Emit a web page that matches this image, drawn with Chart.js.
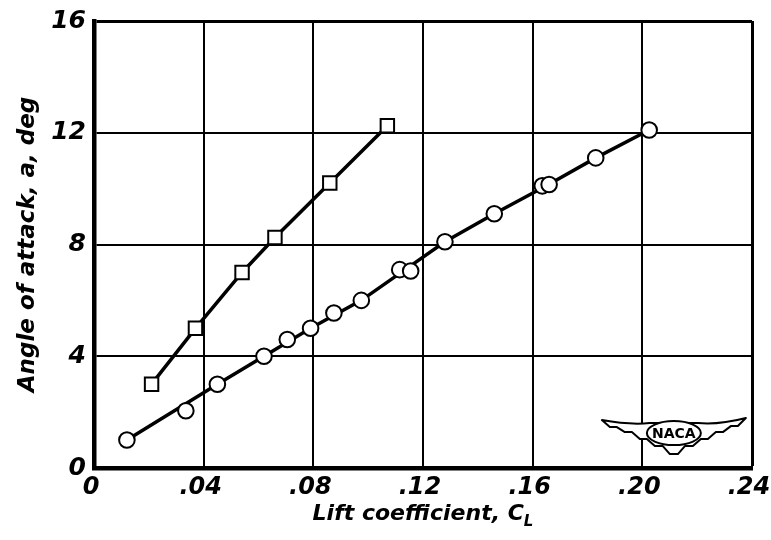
<!DOCTYPE html>
<html>
<head>
<meta charset="utf-8">
<script src="https://cdn.jsdelivr.net/npm/chart.js@4.4.1/dist/chart.umd.min.js"></script>
<style>
  html, body { margin: 0; padding: 0; background: #fff; }
  #wrap { width: 771px; height: 540px; }
</style>
</head>
<body>
<div id="wrap"><canvas id="chart" width="771" height="540"></canvas></div>
<script>
// tick labels
const xTickLabels = ['0', '.04', '.08', '.12', '.16', '.20', '.24']
const yTickLabels = ['0', '4', '8', '12', '16']

// square symbols
const squareCL = [0.021, 0.037, 0.054, 0.066, 0.086, 0.107]
const squareAlpha = [3, 5, 7, 8.25, 10.2, 12.25]
// faired line through the squares
const squareFitCL = [0.021, 0.037, 0.054, 0.066, 0.086, 0.105]
const squareFitAlpha = [3, 5, 7, 8.25, 10.2, 12.05]

// circle symbols
const circleCL = [0.012, 0.0335, 0.045, 0.062, 0.0705, 0.079, 0.0875, 0.0975, 0.1115, 0.1155, 0.128, 0.146, 0.1635, 0.166, 0.183, 0.2025]
const circleAlpha = [1, 2.05, 3, 4, 4.6, 5, 5.55, 6, 7.1, 7.05, 8.1, 9.1, 10.1, 10.15, 11.1, 12.1]
// faired line through the circles
const circleFitCL = [0.012, 0.045, 0.062, 0.079, 0.0975, 0.1135, 0.128, 0.146, 0.165, 0.183, 0.2025]
const circleFitAlpha = [1, 3, 4, 5, 6, 7.1, 8.1, 9.1, 10.1, 11.1, 12.1]

const FONT = "'DejaVu Sans', 'Liberation Sans', sans-serif"

const toPoints = (xs, ys) => xs.map((x, i) => ({ x: x, y: ys[i] }))

const whiteBg = {
  id: 'whiteBg',
  beforeDraw(chart) {
    const ctx = chart.ctx
    ctx.save()
    ctx.fillStyle = '#fff'
    ctx.fillRect(0, 0, chart.width, chart.height)
    ctx.restore()
  }
}

// x axis title with the subscript L
const xTitle = {
  id: 'xTitle',
  afterDraw(chart) {
    const { ctx, chartArea } = chart
    const cx = (chartArea.left + chartArea.right) / 2
    const main = 'Lift coefficient, C'
    ctx.save()
    ctx.fillStyle = '#000'
    ctx.textBaseline = 'alphabetic'
    ctx.textAlign = 'left'
    ctx.font = `italic bold 22px ${FONT}`
    const w = ctx.measureText(main).width
    ctx.font = `italic bold 15px ${FONT}`
    const ws = ctx.measureText('L').width
    const x0 = cx - (w + ws) / 2
    ctx.font = `italic bold 22px ${FONT}`
    ctx.fillText(main, x0, 520)
    ctx.font = `italic bold 15px ${FONT}`
    ctx.fillText('L', x0 + w, 526)
    ctx.restore()
  }
}

// NACA wing badge in the lower right corner
const nacaLogo = {
  id: 'nacaLogo',
  afterDraw(chart) {
    const ctx = chart.ctx
    const cx = chart.scales.x.getPixelForValue(0.2115)
    const cy = chart.scales.y.getPixelForValue(1.25)
    ctx.save()
    ctx.translate(cx, cy)
    ctx.lineWidth = 2
    ctx.lineJoin = 'round'
    ctx.strokeStyle = '#000'
    ctx.fillStyle = '#fff'
    ctx.beginPath()
    ctx.moveTo(-72, -13)
    ctx.quadraticCurveTo(-45, -8, -24, -10)
    ctx.lineTo(24, -10)
    ctx.quadraticCurveTo(45, -8, 72, -15)
    ctx.lineTo(64, -7); ctx.lineTo(57, -7)
    ctx.lineTo(49, -1); ctx.lineTo(42, -1)
    ctx.lineTo(34, 6); ctx.lineTo(27, 6)
    ctx.lineTo(19, 13); ctx.lineTo(11, 13)
    ctx.lineTo(4, 21); ctx.lineTo(-4, 21)
    ctx.lineTo(-11, 13); ctx.lineTo(-19, 13)
    ctx.lineTo(-27, 6); ctx.lineTo(-34, 6)
    ctx.lineTo(-42, -1); ctx.lineTo(-49, -1)
    ctx.lineTo(-57, -6); ctx.lineTo(-64, -6)
    ctx.closePath()
    ctx.fill()
    ctx.stroke()
    ctx.beginPath()
    ctx.ellipse(0, 0, 27, 12, 0, 0, Math.PI * 2)
    ctx.fill()
    ctx.stroke()
    ctx.fillStyle = '#000'
    ctx.font = `bold 14px ${FONT}`
    ctx.textAlign = 'center'
    ctx.textBaseline = 'middle'
    ctx.fillText('NACA', 0, 1)
    ctx.restore()
  }
}

new Chart(document.getElementById('chart'), {
  type: 'scatter',
  data: {
    datasets: [
      {
        label: 'Squares',
        data: toPoints(squareCL, squareAlpha),
        showLine: false,
        pointStyle: 'rect',
        pointRadius: 9.5,
        pointBorderWidth: 2,
        pointBackgroundColor: '#fff',
        pointBorderColor: '#000'
      },
      {
        label: 'Circles',
        data: toPoints(circleCL, circleAlpha),
        showLine: false,
        pointStyle: 'circle',
        pointRadius: 7.8,
        pointBorderWidth: 2,
        pointBackgroundColor: '#fff',
        pointBorderColor: '#000'
      },
      {
        label: 'Squares fairing',
        data: toPoints(squareFitCL, squareFitAlpha),
        showLine: true,
        borderColor: '#000',
        borderWidth: 3.5,
        pointRadius: 0,
        tension: 0,
        fill: false
      },
      {
        label: 'Circles fairing',
        data: toPoints(circleFitCL, circleFitAlpha),
        showLine: true,
        borderColor: '#000',
        borderWidth: 3.5,
        pointRadius: 0,
        tension: 0,
        fill: false
      }
    ]
  },
  options: {
    responsive: false,
    animation: false,
    layout: { padding: { top: 21, right: 19, left: 0, bottom: 0 } },
    plugins: {
      legend: { display: false },
      tooltip: { enabled: false }
    },
    scales: {
      x: {
        type: 'linear',
        min: 0,
        max: 0.24,
        afterFit: (scale) => {
          scale.height = 72
          scale.paddingLeft = 0
          scale.paddingRight = 0
        },
        border: { display: true, color: '#000', width: 4.5 },
        grid: {
          color: '#000',
          lineWidth: (ctx) => (ctx.index === 6 ? 3 : 2),
          drawTicks: false
        },
        ticks: {
          stepSize: 0.04,
          padding: 8,
          labelOffset: -3,
          color: '#000',
          font: { family: FONT, size: 24, style: 'italic', weight: 'bold', lineHeight: 1 },
          callback: (v, i) => xTickLabels[i]
        }
      },
      y: {
        type: 'linear',
        min: 0,
        max: 16,
        afterFit: (scale) => {
          scale.width = 94
          scale.paddingTop = 0
          scale.paddingBottom = 0
        },
        border: { display: true, color: '#000', width: 4.5 },
        grid: {
          color: '#000',
          lineWidth: (ctx) => (ctx.index === 4 ? 3 : 2),
          drawTicks: false
        },
        ticks: {
          stepSize: 4,
          padding: 8,
          color: '#000',
          font: { family: FONT, size: 25, style: 'italic', weight: 'bold', lineHeight: 1 },
          callback: (v, i) => yTickLabels[i]
        },
        title: {
          display: true,
          text: 'Angle of attack, a, deg',
          color: '#000',
          padding: { top: 14, bottom: 0 },
          font: { family: FONT, size: 23, style: 'italic', weight: 'bold' }
        }
      }
    }
  },
  plugins: [whiteBg, xTitle, nacaLogo]
})
</script>
</body>
</html>
